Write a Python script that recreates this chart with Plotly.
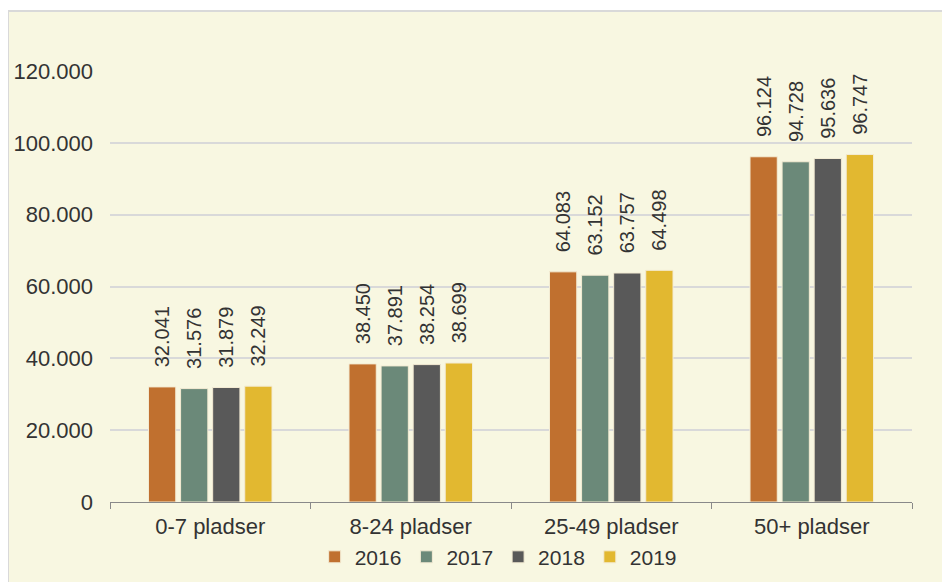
import plotly.graph_objects as go

# categories and values
categories = ['0-7 pladser', '8-24 pladser', '25-49 pladser', '50+ pladser']
years = ['2016', '2017', '2018', '2019']
v2016 = [32041, 38450, 64083, 96124]
v2017 = [31576, 37891, 63152, 94728]
v2018 = [31879, 38254, 63757, 95636]
v2019 = [32249, 38699, 64498, 96747]
y_ticks = [0, 20000, 40000, 60000, 80000, 100000, 120000]

colors = ['#C0702F', '#6B8979', '#595959', '#E2B830']
font_family = 'Liberation Sans, Arial, sans-serif'
cream = '#F8F7E1'

fig = go.Figure()
for name, vals, col in zip(years, [v2016, v2017, v2018, v2019], colors):
    fig.add_trace(go.Bar(
        name=name, x=categories, y=vals,
        marker=dict(color=col, line=dict(color='#F3EBD3', width=1)),
        texttemplate='\u00a0\u00a0\u00a0%{y:,.0f}',
        textposition='outside', textangle=-90,
        textfont=dict(size=20, color='#333333', family=font_family),
        constraintext='none', cliponaxis=False,
    ))

# page body has an 8px margin, so the figure is offset; plot area is 802x431
# chart frame (cream box with grey border, like the source)
fig.add_shape(type='rect', xref='paper', yref='paper', layer='below',
              x0=(0 - 102) / 802, x1=(960 - 102) / 802,
              y0=(494 - 600) / 431, y1=(494 - 3) / 431,
              fillcolor=cream, line=dict(color='#D9D9D9', width=2))

fig.update_layout(
    width=950, height=582,
    margin=dict(l=102, r=46, t=63, b=88),
    paper_bgcolor='white', plot_bgcolor='rgba(0,0,0,0)',
    separators=',.',
    barmode='group', bargap=0.36, bargroupgap=0.15,
    font=dict(family=font_family, size=22, color='#333333'),
    showlegend=True,
    legend=dict(orientation='h', x=0.484, xanchor='center',
                y=-0.128, yanchor='middle',
                font=dict(size=21), itemwidth=30,
                bgcolor='rgba(0,0,0,0)'),
)
fig.update_yaxes(range=[0, 120000], tickvals=y_ticks, tickformat=',.0f',
                 showgrid=True, gridcolor='#D9D9D9', gridwidth=2,
                 zeroline=False, showline=False, ticks='',
                 ticklabelstandoff=16, automargin=False)
fig.update_xaxes(showline=True, linecolor='#898989', linewidth=1,
                 ticks='outside', tickson='boundaries', ticklen=6,
                 tickcolor='#898989', showgrid=False,
                 ticklabelstandoff=5, automargin=False)

fig.write_html('out.html')
